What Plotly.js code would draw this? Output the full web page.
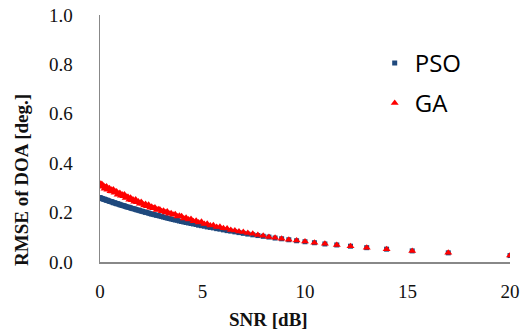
<!DOCTYPE html>
<html>
<head>
<meta charset="utf-8">
<script src="https://cdn.plot.ly/plotly-3.0.1.min.js"></script>
<style>html,body{margin:0;padding:0;background:#fff;}#chart{width:524px;height:336px;}</style>
</head>
<body>
<div id="chart"></div>
<script>
// SNR values [dB] (dense at low SNR, sparse at high SNR)
var snr = [0.00,0.04,0.09,0.13,0.18,0.22,0.27,0.32,0.36,0.41,0.46,0.51,0.56,0.60,0.65,0.71,0.76,0.81,0.86,0.92,
0.97,1.02,1.08,1.14,1.19,1.25,1.31,1.37,1.43,1.49,1.55,1.61,1.67,1.74,1.80,1.87,1.94,2.01,2.08,2.15,
2.22,2.29,2.37,2.44,2.52,2.60,2.68,2.76,2.84,2.92,3.01,3.10,3.19,3.28,3.37,3.47,3.57,3.67,3.77,3.87,
3.98,4.09,4.20,4.32,4.44,4.56,4.69,4.81,4.95,5.09,5.23,5.38,5.53,5.69,5.85,6.02,6.20,6.38,6.58,6.78,
6.99,7.21,7.45,7.70,7.96,8.24,8.54,8.86,9.21,9.59,10.00,10.46,10.97,11.55,12.22,13.01,13.98,15.23,16.99,20.00];

// PSO RMSE [deg.]
var pso = [0.261,0.259,0.257,0.256,0.254,0.254,0.252,0.250,0.250,0.248,0.246,0.245,0.244,0.243,0.240,0.240,0.238,0.236,0.236,0.234,
0.232,0.231,0.229,0.228,0.227,0.225,0.223,0.222,0.221,0.219,0.217,0.216,0.215,0.213,0.211,0.210,0.208,0.206,0.205,0.203,
0.201,0.200,0.198,0.196,0.194,0.193,0.191,0.189,0.188,0.186,0.184,0.182,0.180,0.178,0.176,0.174,0.172,0.170,0.169,0.166,
0.164,0.162,0.160,0.158,0.156,0.154,0.152,0.149,0.147,0.145,0.142,0.140,0.138,0.135,0.133,0.130,0.127,0.125,0.122,0.119,
0.116,0.113,0.110,0.107,0.104,0.101,0.097,0.094,0.090,0.086,0.082,0.078,0.073,0.069,0.064,0.058,0.052,0.045,0.037,0.026];

// GA RMSE [deg.]
var ga = [0.318,0.307,0.316,0.305,0.309,0.297,0.303,0.306,0.293,0.296,0.299,0.286,0.293,0.285,0.294,0.280,0.284,0.285,0.272,0.276,
0.279,0.268,0.273,0.266,0.273,0.259,0.264,0.263,0.252,0.260,0.250,0.253,0.244,0.253,0.242,0.245,0.236,0.243,0.236,0.229,
0.235,0.226,0.232,0.220,0.224,0.218,0.221,0.211,0.214,0.213,0.205,0.207,0.200,0.204,0.195,0.197,0.191,0.193,0.184,0.187,
0.185,0.176,0.179,0.172,0.174,0.165,0.167,0.160,0.163,0.154,0.155,0.148,0.149,0.142,0.143,0.137,0.136,0.130,0.128,0.123,
0.121,0.117,0.114,0.109,0.106,0.101,0.098,0.094,0.090,0.087,0.083,0.078,0.074,0.069,0.064,0.058,0.052,0.045,0.037,0.026];

var xTicks = [0, 5, 10, 15, 20];
var yTicks = [0.0, 0.2, 0.4, 0.6, 0.8, 1.0];
var seriesNames = ['PSO', 'GA'];

var tickFont = {family: 'Liberation Serif, Times New Roman, serif', size: 19, color: '#111'};
var titleFont = {family: 'Liberation Serif, Times New Roman, serif', size: 19, color: '#111', weight: 'bold'};
var legendFont = {family: 'Open Sans, Liberation Sans, sans-serif', size: 24, color: '#000'};

var traces = [
  {x: snr, y: pso, name: seriesNames[0], type: 'scatter', mode: 'markers', legend: 'legend',
   marker: {symbol: 'square', size: 5, color: '#1F497D'}},
  {x: snr, y: ga, name: seriesNames[1], type: 'scatter', mode: 'markers', legend: 'legend2',
   marker: {symbol: 'triangle-up', size: 7, color: '#FF0000'}}
];

var layout = {
  width: 524, height: 336,
  margin: {l: 100, r: 14, t: 15, b: 74},
  paper_bgcolor: '#ffffff', plot_bgcolor: '#ffffff',
  showlegend: true,
  legend: {x: 0.67, y: 0.895, xanchor: 'left', yanchor: 'top', font: legendFont,
           bgcolor: 'rgba(0,0,0,0)', borderwidth: 0},
  legend2: {x: 0.67, y: 0.733, xanchor: 'left', yanchor: 'top', font: legendFont,
            bgcolor: 'rgba(0,0,0,0)', borderwidth: 0},
  xaxis: {range: [0, 20], tickvals: xTicks, ticktext: xTicks.map(String),
          showgrid: false, zeroline: false, showline: true, linecolor: '#888888', linewidth: 1.5,
          ticks: '', tickfont: tickFont, ticklabelstandoff: 12, fixedrange: true},
  yaxis: {range: [0, 1], tickvals: yTicks, ticktext: yTicks.map(function(v){return v.toFixed(1);}),
          showgrid: false, zeroline: false, showline: true, linecolor: '#888888', linewidth: 1.5,
          ticks: '', tickfont: tickFont, ticklabelstandoff: 22, fixedrange: true},
  annotations: [
    {text: 'SNR [dB]', xref: 'paper', yref: 'paper', x: (268-100)/410, y: -(319-262)/247,
     xanchor: 'center', yanchor: 'middle', showarrow: false, font: titleFont},
    {text: 'RMSE of DOA [deg.]', xref: 'paper', yref: 'paper', x: -(100-21)/410, y: (262-180)/247,
     xanchor: 'center', yanchor: 'middle', showarrow: false, textangle: -90, font: titleFont}
  ]
};

Plotly.newPlot('chart', traces, layout, {displayModeBar: false, staticPlot: true});
</script>
</body>
</html>
